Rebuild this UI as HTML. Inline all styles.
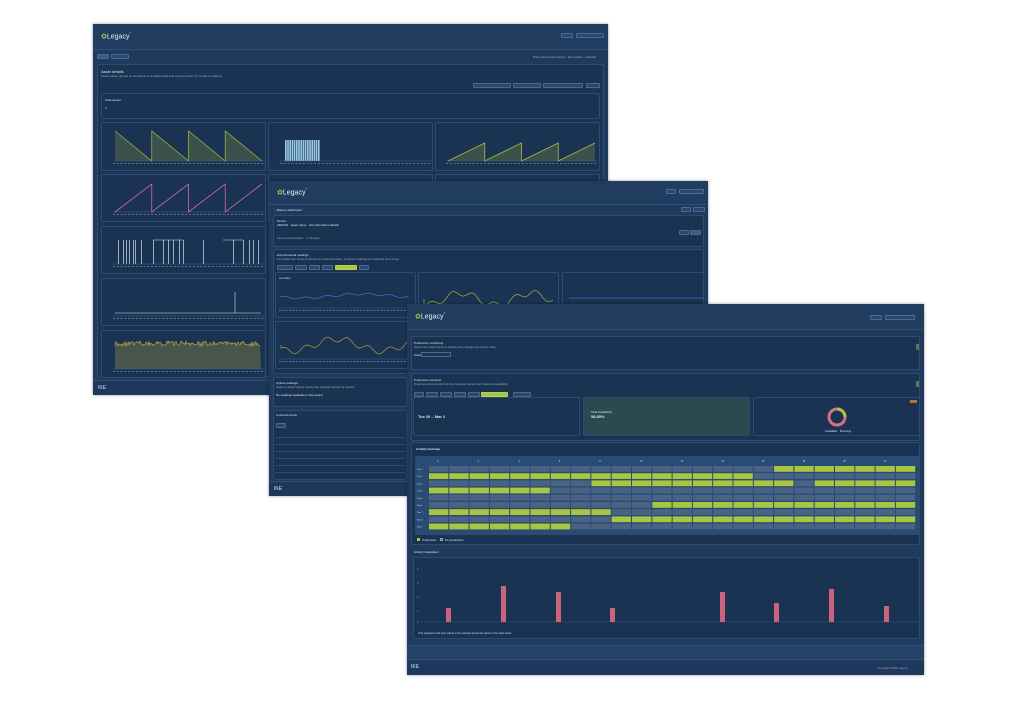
<!DOCTYPE html>
<html><head><meta charset="utf-8">
<style>
*{margin:0;padding:0;box-sizing:border-box}
body{width:1018px;height:702px;background:#fff;position:relative;overflow:hidden;font-family:"Liberation Sans",sans-serif;color:#cfe0f0}
.s{position:absolute;background:#1f3a5c;box-shadow:0 0 3px rgba(0,0,0,.4);overflow:hidden}
.a{position:absolute}
.p{position:absolute;background:#1b3352;border:1px solid #2c4c72;border-radius:2px}
.hd{position:absolute;left:0;right:0;top:0;background:#203d60;border-bottom:1px solid #2d5078}
.t{position:absolute;font-size:4px;color:#d8e6f2;white-space:nowrap}
.logo{position:absolute;font-size:7px;color:#e6eef6}
.logo b{color:#9fce3c;font-weight:normal}
.btn{position:absolute;height:5px;border:1px solid #4a6a90;border-radius:1px;background:#28486e}
svg{position:absolute}
</style></head><body>

<!-- SCREEN 1 -->
<div class="s" style="left:93px;top:24px;width:515px;height:371px">
 <div class="hd" style="height:26px"></div>
 <div class="logo" style="left:8px;top:7px"><b>✿</b>Legacy<sup style="font-size:4px">°</sup></div>
 <div class="btn" style="left:468px;top:9px;width:12px"></div>
 <div class="btn" style="left:483px;top:9px;width:28px"></div>
 <div class="btn" style="left:4px;top:30px;width:12px;background:#3a5c84"></div>
 <div class="btn" style="left:18px;top:30px;width:18px"></div>
 <div class="t" style="left:440px;top:31px;font-size:3px;color:#9ab">Data refresh information · last update · updated</div>
 <div class="p" style="left:4px;top:40px;width:507px;height:313px;background:#1c3454"></div>
 <div class="t" style="left:8px;top:45px">Asset details</div>
 <div class="t" style="left:8px;top:50px;font-size:3px;color:#9ab">Select asset, groups or site below to visualise data and compare them for trends &amp; analysis.</div>
 <div class="btn" style="left:380px;top:59px;width:38px"></div>
 <div class="btn" style="left:420px;top:59px;width:28px"></div>
 <div class="btn" style="left:450px;top:59px;width:40px"></div>
 <div class="btn" style="left:493px;top:59px;width:14px"></div>
 <div class="p" style="left:8px;top:69px;width:499px;height:26px"></div>
 <div class="t" style="left:12px;top:74px;font-size:3px">Total assets</div>
 <div class="t" style="left:12px;top:82px;font-size:3px">0</div>
 <div class="p" style="left:8px;top:98px;width:165px;height:49px"></div>
 <div class="p" style="left:175px;top:98px;width:165px;height:49px"></div>
 <div class="p" style="left:342px;top:98px;width:165px;height:49px"></div>
 <div class="p" style="left:8px;top:150px;width:165px;height:48px"></div>
 <div class="p" style="left:175px;top:150px;width:165px;height:48px"></div>
 <div class="p" style="left:342px;top:150px;width:165px;height:48px"></div>
 <div class="p" style="left:8px;top:202px;width:165px;height:48px"></div>
 <div class="p" style="left:8px;top:254px;width:165px;height:48px"></div>
 <div class="p" style="left:8px;top:306px;width:165px;height:48px"></div>
 <svg id="c1" style="left:93px;top:24px" width="515" height="371"></svg>
 <div class="a" style="left:0;right:0;top:356px;height:15px;background:#1d385a;border-top:1px solid #2d5078"></div>
 <div class="t" style="left:5px;top:361px;font-size:5px">IKE</div>
</div>

<!-- SCREEN 2 -->
<div class="s" style="left:269px;top:181px;width:439px;height:315px">
 <div class="hd" style="height:24px"></div>
 <div class="logo" style="left:8px;top:6px"><b>✿</b>Legacy<sup style="font-size:4px">°</sup></div>
 <div class="btn" style="left:397px;top:8px;width:10px"></div>
 <div class="btn" style="left:410px;top:8px;width:25px"></div>
 <div class="t" style="left:6px;top:27px;font-size:3px">‹ Back to dashboard</div>
 <div class="btn" style="left:412px;top:26px;width:10px"></div>
 <div class="btn" style="left:424px;top:26px;width:12px"></div>
 <div class="p" style="left:4px;top:34px;width:431px;height:32px"></div>
 <div class="t" style="left:8px;top:38px;font-size:3px">Device</div>
 <div class="t" style="left:8px;top:42px;font-size:3px">ABC001 · asset name · site information details</div>
 <div class="t" style="left:8px;top:55px;font-size:3px;color:#9ab">Last communication · 1 min ago</div>
 <div class="btn" style="left:410px;top:49px;width:10px"></div>
 <div class="btn" style="left:421px;top:49px;width:11px;background:#3a5c84"></div>
 <div class="p" style="left:4px;top:68px;width:431px;height:125px"></div>
 <div class="t" style="left:8px;top:72px;font-size:3px">Environmental readings</div>
 <div class="t" style="left:8px;top:76px;font-size:3px;color:#9ab">Live data from sensors across the selected asset, compare readings for selected time range</div>
 <div class="btn" style="left:8px;top:84px;width:16px"></div>
 <div class="btn" style="left:26px;top:84px;width:12px"></div>
 <div class="btn" style="left:40px;top:84px;width:11px"></div>
 <div class="btn" style="left:53px;top:84px;width:11px"></div>
 <div class="btn" style="left:66px;top:84px;width:22px;background:#a8c640;border-color:#b8d450"></div>
 <div class="btn" style="left:90px;top:84px;width:10px"></div>
 <div class="p" style="left:6px;top:91px;width:141px;height:46px"></div>
 <div class="p" style="left:149px;top:91px;width:141px;height:46px"></div>
 <div class="p" style="left:293px;top:91px;width:142px;height:46px"></div>
 <div class="p" style="left:6px;top:140px;width:141px;height:48px"></div>
 <svg id="c2" style="left:269px;top:181px" width="439" height="315"></svg>
 <div class="p" style="left:4px;top:196px;width:134px;height:30px"></div>
 <div class="t" style="left:7px;top:200px;font-size:3px">Uptime readings</div>
 <div class="t" style="left:7px;top:204px;font-size:3px;color:#9ab">Data on asset uptime across the selected period for device</div>
 <div class="t" style="left:7px;top:212px;font-size:3px">No readings available in this period</div>
 <div class="p" style="left:4px;top:229px;width:134px;height:70px"></div>
 <div class="t" style="left:7px;top:232px;font-size:3px">Connected time</div>
 <div class="btn" style="left:7px;top:242px;width:10px"></div>
 <div class="a" style="left:6px;top:250px;width:130px;height:48px;background:repeating-linear-gradient(#1b3352 0 6px,#2c4c72 6px 7px)"></div>
 <div class="a" style="left:0;right:0;top:300px;height:15px;background:#1d385a;border-top:1px solid #2d5078"></div>
 <div class="t" style="left:5px;top:305px;font-size:5px">IKE</div>
</div>

<!-- SCREEN 3 -->
<div class="s" style="left:407px;top:304px;width:517px;height:371px">
 <div class="hd" style="height:26px"></div>
 <div class="logo" style="left:8px;top:7px"><b>✿</b>Legacy<sup style="font-size:4px">°</sup></div>
 <div class="btn" style="left:463px;top:11px;width:12px"></div>
 <div class="btn" style="left:478px;top:11px;width:30px"></div>
 <div class="p" style="left:4px;top:32px;width:509px;height:34px"></div>
 <div class="t" style="left:7px;top:37px;font-size:3px">Production monitoring</div>
 <div class="t" style="left:7px;top:41px;font-size:3px;color:#9ab">Select the asset below to display the relevant production data</div>
 <div class="t" style="left:7px;top:49px;font-size:3px">Asset</div>
 <div class="a" style="left:14px;top:48px;width:30px;height:5px;border:1px solid #4a6a90;background:#1b3352"></div>
 <div class="a" style="left:509px;top:40px;width:3px;height:6px;background:#5a7a50"></div>
 <div class="p" style="left:4px;top:69px;width:509px;height:68px"></div>
 <div class="t" style="left:7px;top:74px;font-size:3px">Production overview</div>
 <div class="t" style="left:7px;top:78px;font-size:3px;color:#9ab">Overview of production for the selected period and machine availability</div>
 <div class="a" style="left:509px;top:77px;width:3px;height:6px;background:#5a7a50"></div>
 <div class="btn" style="left:7px;top:88px;width:10px"></div>
 <div class="btn" style="left:19px;top:88px;width:12px"></div>
 <div class="btn" style="left:33px;top:88px;width:12px"></div>
 <div class="btn" style="left:47px;top:88px;width:12px"></div>
 <div class="btn" style="left:61px;top:88px;width:12px"></div>
 <div class="btn" style="left:74px;top:88px;width:27px;background:#a8c640;border-color:#b8d450"></div>
 <div class="btn" style="left:106px;top:88px;width:18px"></div>
 <div class="p" style="left:6px;top:93px;width:167px;height:39px"></div>
 <div class="t" style="left:11px;top:110px;font-size:4px;font-weight:bold">Tue 20 – Mar 2</div>
 <div class="p" style="left:176px;top:93px;width:167px;height:39px;background:#2a4a52"></div>
 <div class="t" style="left:184px;top:106px;font-size:3px">Total availability</div>
 <div class="t" style="left:184px;top:110px;font-size:4px;font-weight:bold">58.85%</div>
 <div class="p" style="left:346px;top:93px;width:167px;height:39px"></div>
 <div class="a" style="left:503px;top:96px;width:7px;height:3px;background:#b07830"></div>
 <svg style="left:418px;top:101px" width="24" height="24"><circle cx="12" cy="12" r="8" fill="none" stroke="#d6708a" stroke-width="3"/><path d="M12 4 A8 8 0 0 1 20 12" fill="none" stroke="#a8c640" stroke-width="3"/></svg>
 <div class="t" style="left:418px;top:125px;font-size:3px">Available · Running</div>
 <div class="p" style="left:4px;top:138px;width:509px;height:103px"></div>
 <div class="t" style="left:9px;top:143px;font-size:3px;font-weight:bold">Activity heatmap</div>
 <div class="a" style="left:8px;top:152px;width:505px;height:79px;background:#2a4c74;border-radius:2px"></div>
 <svg id="hm" style="left:0;top:0" width="517" height="371"></svg>
 <div class="a" style="left:10px;top:234px;width:3px;height:3px;background:#a8c640"></div>
 <div class="t" style="left:15px;top:234px;font-size:3px">Production</div>
 <div class="a" style="left:33px;top:234px;width:3px;height:3px;border:1px solid #8aa"></div>
 <div class="t" style="left:38px;top:234px;font-size:3px">No production</div>
 <div class="t" style="left:7px;top:246px;font-size:3px">Activity breakdown</div>
 <div class="p" style="left:6px;top:253px;width:507px;height:82px"></div>
 <svg style="left:0;top:0" width="517" height="371">
  <g stroke="#36587e" stroke-width=".5"><line x1="14" y1="318" x2="512" y2="318"/></g>
  <g fill="#9ab" font-size="2.5" font-family="Liberation Sans"><text x="10" y="266">4</text><text x="10" y="280">3</text><text x="10" y="294">2</text><text x="10" y="308">1</text><text x="10" y="319">0</text></g>
  <g fill="#c9647a">
   <rect x="39" y="304" width="5" height="14"/><rect x="94" y="282" width="5" height="36"/><rect x="149" y="288" width="5" height="30"/><rect x="203" y="304" width="5" height="14"/><rect x="313" y="288" width="5" height="30"/><rect x="367" y="299" width="5" height="19"/><rect x="422" y="285" width="5" height="33"/><rect x="477" y="302" width="5" height="16"/>
  </g>
  <text x="11" y="330" fill="#cde" font-size="2.5" font-family="Liberation Sans">Only categories that have values in the selected period are shown in the chart above</text>
 </svg>
 <div class="a" style="left:0;right:0;top:341px;height:14px;background:#234268;border-top:1px solid #2d5078"></div>
 <div class="a" style="left:0;right:0;top:355px;height:16px;background:#1d385a;border-top:1px solid #2d5078"></div>
 <div class="t" style="left:4px;top:360px;font-size:5px">IKE</div>
 <div class="t" style="left:470px;top:362px;font-size:3px;color:#9ab">Copyright 2024 Legacy</div>
</div>

<script>
function el(svg,tag,attrs){var e=document.createElementNS("http://www.w3.org/2000/svg",tag);for(var k in attrs)e.setAttribute(k,attrs[k]);svg.appendChild(e);return e}
// screen 1 charts (coords local to screen)
var c1=document.getElementById('c1');c1.style.left='0';c1.style.top='0';
function saw(svg,x0,y0,w,h,n,dir,col,fill){var pts=[],seg=w/n;for(var i=0;i<n;i++){var a=x0+i*seg,b=a+seg;if(dir<0){pts.push([a,y0-h],[b,y0])}else{pts.push([a,y0],[b,y0-h])}}
 var d='M'+pts.map(p=>p.join(',')).join(' L');el(svg,'path',{d:d,fill:'none',stroke:col,'stroke-width':.8});
 if(fill)el(svg,'path',{d:d+' L'+(x0+w)+','+y0+' L'+x0+','+y0+'Z',fill:fill,stroke:'none'})}
function axis(svg,x0,y0,w){el(svg,'line',{x1:x0,y1:y0,x2:x0+w,y2:y0,stroke:'#4d6d90','stroke-width':.4});
 for(var i=0;i<40;i++)el(svg,'rect',{x:x0+i*w/40,y:y0+2,width:2,height:.8,fill:'#6a88a8'})}
saw(c1,22,137,147,30,4,-1,'#9ab040','rgba(150,170,60,.25)');axis(c1,20,137,152);
// bars
for(var i=0;i<16;i++)el(c1,'rect',{x:192+i*2.2,y:116,width:1.6,height:21,fill:'#9cc8e8'});axis(c1,187,137,152);
saw(c1,355,137,147,18,4,1,'#b0c040','rgba(150,170,60,.25)');axis(c1,353,137,152);
saw(c1,22,188,147,28,4,1,'#d06ab0',null);axis(c1,20,188,152);
// pulses
var xs=[25,30,33,36,40,42,48,60,70,75,80,86,90,110,140,150,156,160,165];
for(var i=0;i<xs.length;i++)el(c1,'rect',{x:xs[i],y:216,width:.7,height:24,fill:'#cfe4f4'});
el(c1,'path',{d:'M60,216 H90 M130,216 H150',stroke:'#cfe4f4','stroke-width':.6});axis(c1,20,240,152);
el(c1,'line',{x1:22,y1:289,x2:168,y2:289,stroke:'#9ab','stroke-width':.8});el(c1,'line',{x1:142,y1:289,x2:142,y2:268,stroke:'#cde','stroke-width':.6});axis(c1,20,292,152);
var d='M22,322';for(var x=22;x<168;x+=1)d+=' L'+x+','+(322-Math.random()*5);
el(c1,'path',{d:d+' L168,345 L22,345Z',fill:'rgba(160,150,60,.35)',stroke:'none'});el(c1,'path',{d:d,fill:'none',stroke:'#c8b838','stroke-width':.6});axis(c1,20,345,152);
// screen 2
var c2=document.getElementById('c2');c2.style.left='0';c2.style.top='0';
function wig(svg,x0,x1,yc,amp,col,seed){var d='M'+x0+','+yc;for(var x=x0;x<x1;x+=1.5){d+=' L'+x+','+(yc+Math.sin(x*seed)*amp+Math.sin(x*.3)*amp*.5)}el(svg,'path',{d:d,fill:'none',stroke:col,'stroke-width':.7})}
el(c2,'text',{x:10,y:98,fill:'#cde','font-size':3}).textContent='Humidity';
wig(c2,12,140,115,2,'#4a6ad0',.05);axis(c2,10,127,135);
wig(c2,155,285,118,6,'#9ab83a',.09);axis(c2,153,127,135);
el(c2,'line',{x1:300,y1:117,x2:435,y2:117,stroke:'#5060d0','stroke-width':.7});
wig(c2,12,140,164,6,'#a8a040',.07);axis(c2,10,178,135);
// heatmap
var hm=document.getElementById('hm');
var rows=[[17,23],[0,15],[8,17,19,23],[0,5],[],[11,23],[0,8],[9,23],[0,6]];
for(var c=0;c<12;c++)el(hm,'text',{x:30+c*40.6,y:158,fill:'#cde','font-size':2.5}).textContent=(c*2);
for(var r=0;r<9;r++){var y=162+r*7.2;el(hm,'text',{x:10,y:y+4,fill:'#cde','font-size':2}).textContent='Row '+(r+1);
 for(var c=0;c<24;c++){var g=false,R=rows[r];for(var k=0;k<R.length;k+=2)if(c>=R[k]&&c<=R[k+1])g=true;
  el(hm,'rect',{x:22+c*20.3,y:y,width:19.3,height:5.8,fill:g?'#a8c640':'#4a6384'})}}
</script>
</body></html>
